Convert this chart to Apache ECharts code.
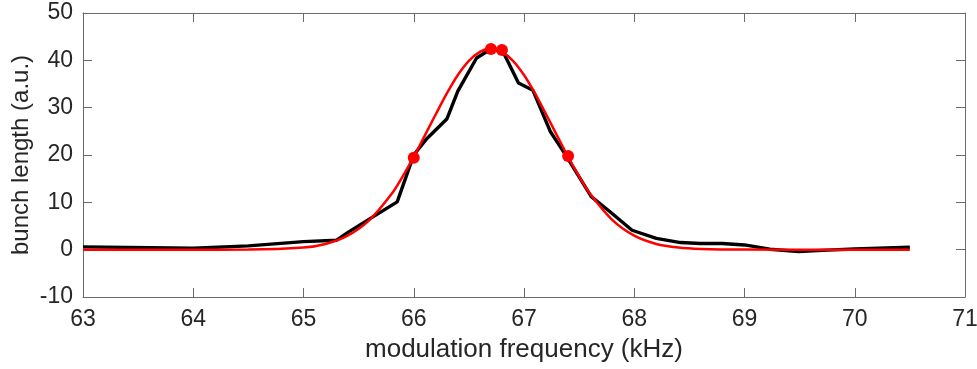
<!DOCTYPE html>
<html>
<head>
<meta charset="utf-8">
<script src="https://cdn.jsdelivr.net/npm/echarts@6/dist/echarts.min.js"></script>
<style>html,body{margin:0;padding:0;background:#fff;}#c{width:977px;height:369px;}</style>
</head>
<body>
<div id="c"></div>
<script>
// measured bunch length (black)
const measuredX = [63.0, 64.0, 64.5, 65.0, 65.3, 65.4, 65.6, 65.85, 66.0, 66.12, 66.3, 66.4, 66.57, 66.66, 66.8, 66.95, 67.08, 67.24, 67.37, 67.61, 67.78, 67.98, 68.2, 68.42, 68.6, 68.8, 69.0, 69.23, 69.49, 69.75, 70.0, 70.5];
const measuredY = [0.6, 0.3, 0.8, 1.7, 2.0, 3.6, 6.5, 10.1, 20.0, 23.5, 27.6, 33.5, 40.5, 41.8, 42.3, 35.2, 33.7, 24.9, 20.3, 11.2, 8.0, 4.1, 2.4, 1.5, 1.3, 1.3, 1.0, 0.1, -0.4, -0.1, 0.15, 0.5];
// fitted curve (red)
const fitX = [63.0, 64.0, 64.5, 65.0, 65.2, 65.4, 65.6, 65.8, 65.9, 66.0, 66.1, 66.2, 66.3, 66.4, 66.5, 66.6, 66.7, 66.8, 66.9, 67.0, 67.1, 67.2, 67.3, 67.4, 67.5, 67.6, 67.8, 68.0, 68.2, 68.4, 68.6, 69.0, 70.0, 70.5];
const fitY = [0, 0, 0.02, 0.44, 1.2, 2.95, 6.3, 11.8, 15.5, 19.6, 24.1, 28.6, 33.0, 36.9, 39.9, 41.8, 42.5, 41.8, 39.9, 36.9, 33.0, 28.6, 24.1, 19.6, 15.5, 11.8, 6.3, 2.95, 1.2, 0.44, 0.14, 0.01, 0, 0];
// highlighted points (red dots)
const dotX = [66.0, 66.7, 66.8, 67.4];
const dotY = [19.4, 42.4, 42.2, 19.8];
// axes
const xMin = 63, xMax = 71, xStep = 1;
const yMin = -10, yMax = 50, yStep = 10;
const xTitle = 'modulation frequency (kHz)';
const yTitle = 'bunch length (a.u.)';

const zip = (a, b) => a.map((v, i) => [v, b[i]]);
const font = 'Liberation Sans, Arial, Helvetica, sans-serif';
const axisCol = '#6b6b6b';
const txtCol = '#262626';

const baseAxis = {
  axisLine: {show: true, onZero: false, lineStyle: {color: axisCol, width: 1}},
  axisTick: {show: true, inside: true, length: 9, lineStyle: {color: axisCol, width: 1}},
  splitLine: {show: false}
};

const chart = echarts.init(document.getElementById('c'), null, {renderer: 'canvas'});
chart.setOption({
  animation: false,
  backgroundColor: '#fff',
  grid: {left: 83, right: 12, top: 13, bottom: 72, containLabel: false, outerBoundsMode: 'none'},
  xAxis: [
    Object.assign({}, baseAxis, {
      type: 'value', min: xMin, max: xMax, interval: xStep, position: 'bottom',
      name: xTitle, nameLocation: 'middle', nameGap: 40, nameMoveOverlap: false,
      nameTextStyle: {color: txtCol, fontSize: 26, fontFamily: font},
      axisLabel: {color: txtCol, fontSize: 23, fontFamily: font, margin: 11}
    }),
    Object.assign({}, baseAxis, {
      type: 'value', min: xMin, max: xMax, interval: xStep, position: 'top',
      axisLabel: {show: false}
    })
  ],
  yAxis: [
    Object.assign({}, baseAxis, {
      type: 'value', min: yMin, max: yMax, interval: yStep, position: 'left',
      name: yTitle, nameLocation: 'middle', nameGap: 50, nameMoveOverlap: false,
      nameTextStyle: {color: txtCol, fontSize: 24, fontFamily: font},
      axisLabel: {color: txtCol, fontSize: 23, fontFamily: font, margin: 10}
    }),
    Object.assign({}, baseAxis, {
      type: 'value', min: yMin, max: yMax, interval: yStep, position: 'right',
      axisLabel: {show: false}
    })
  ],
  series: [
    {
      type: 'line', data: zip(measuredX, measuredY), showSymbol: false, symbol: 'none',
      lineStyle: {color: '#000', width: 3.4}, z: 2
    },
    {
      type: 'line', data: zip(fitX, fitY), smooth: 0.3, showSymbol: false, symbol: 'none',
      lineStyle: {color: '#ff0000', width: 2.5}, z: 3
    },
    {
      type: 'scatter', data: zip(dotX, dotY), symbol: 'circle', symbolSize: 12,
      itemStyle: {color: '#ff0000', opacity: 1}, z: 4
    }
  ]
});
</script>
</body>
</html>
